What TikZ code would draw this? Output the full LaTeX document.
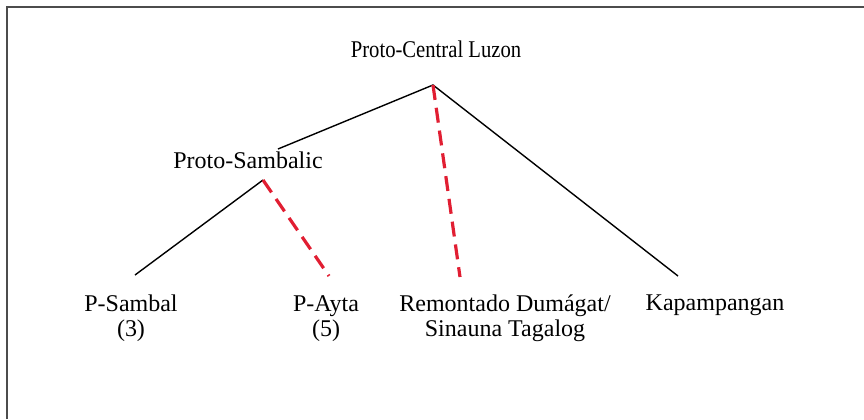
\documentclass[tikz,border=0pt]{standalone}
\usepackage{fontspec}
\setmainfont{Liberation Serif}
\usetikzlibrary{positioning}
\definecolor{dashred}{RGB}{225,30,50}
\tikzset{
	lang/.style={
		inner sep=0pt,
		anchor=base,
		align=center,
		font=\fontsize{12}{12.5}\selectfont},
	branch/.style={draw=black, line width=0.7pt},
	doubtful/.style={draw=dashred, line width=1.6pt, dash pattern=on 7.5pt off 4pt},
	frame/.style={draw=black!70, line width=1pt},
}

\begin{document}
\begin{tikzpicture}[x=0.5pt, y=-0.5pt]
	\useasboundingbox (0,0) rectangle (864,419);
	\draw[frame] (7,419) -- (7,7) -- (864,7);

	% language names (base = last line)
	\node[lang, xscale=0.86, transform shape] (pcl) at (436,57) {Proto-Central Luzon};
	\node[lang] (psam) at (248,168) {Proto-Sambalic};
	\node[lang] (sambal) at (131,336) {P-Sambal\\(3)};
	\node[lang] (ayta) at (326,336) {P-Ayta\\(5)};
	\node[lang] (remon) at (505,336) {Remontado Dumágat/\\Sinauna Tagalog};
	\node[lang] (kapam) at (715,310) {Kapampangan};

	% branch points
	\coordinate (pcl-top) at (433,85);
	\coordinate (psam-in) at (278,149);
	\coordinate (psam-top) at (263,180);
	\coordinate (sambal-in) at (135,275);
	\coordinate (ayta-in) at (329,276);
	\coordinate (remon-in) at (460,277);
	\coordinate (kapam-in) at (678,276);

	\draw[branch] (psam-in) -- (pcl-top) -- (kapam-in);
	\draw[doubtful] (pcl-top) -- (remon-in);
	\draw[branch] (psam-top) -- (sambal-in);
	\draw[doubtful] (psam-top) -- (ayta-in);
\end{tikzpicture}
\end{document}
